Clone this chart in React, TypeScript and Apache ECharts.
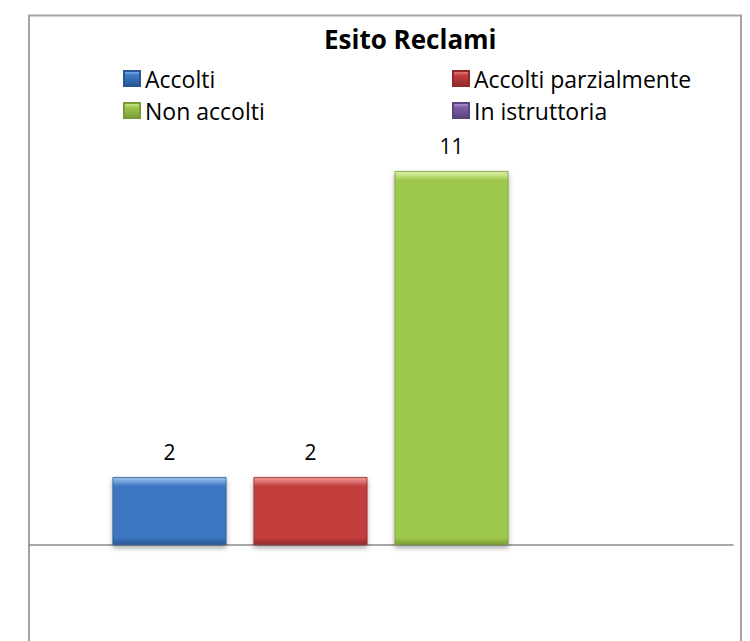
import React, { useEffect, useRef } from "react";
import * as echarts from "echarts";

const categories = ["Esito"];
const seriesNames = ["Accolti", "Accolti parzialmente", "Non accolti", "In istruttoria"];
const seriesValues: (number | null)[] = [2, 2, 11, null];
const palette = [
  ["#8db6e8", "#3c77c2", "#2b5894"],
  ["#e88a8a", "#c43d3d", "#922a2a"],
  ["#d2ea98", "#9dc84c", "#7a9c37"],
  ["#b79ed6", "#7c5ea6", "#5b437f"],
];

const Y_MAX = 12;
const GRID_TOP = 137;
const GRID_BOTTOM = 96;
const CHART_H = 641;
const PX_PER_UNIT = (CHART_H - GRID_TOP - GRID_BOTTOM) / Y_MAX;

const grad = (c: string[], v: number | null) => {
  const h = Math.max(1, (v ?? 1) * PX_PER_UNIT);
  const t1 = Math.min(0.45, 2 / h);
  const t2 = Math.min(0.48, 9 / h);
  const b1 = Math.max(0.52, 1 - 7 / h);
  return new echarts.graphic.LinearGradient(0, 0, 0, 1, [
    { offset: 0, color: c[0] },
    { offset: t1, color: c[0] },
    { offset: t2, color: c[1] },
    { offset: b1, color: c[1] },
    { offset: 1, color: c[2] },
  ]);
};

const legendIconGrad = (c: string[]) =>
  new echarts.graphic.LinearGradient(0, 0, 0, 1, [
    { offset: 0, color: c[0] },
    { offset: 0.3, color: c[1] },
    { offset: 1, color: c[2] },
  ]);

export default function App() {
  const ref = useRef<HTMLDivElement>(null);
  useEffect(() => {
    if (!ref.current) return;
    const chart = echarts.init(ref.current, null, { renderer: "svg" });
    const font = "'Open Sans', 'Noto Sans', sans-serif";
    const legendBase = {
      orient: "vertical",
      top: 67,
      padding: 0,
      itemGap: 9,
      itemWidth: 16,
      itemHeight: 15,
      icon: "rect",
      textStyle: { fontFamily: font, fontSize: 23, color: "#000" },
    };
    chart.setOption({
      animation: false,
      backgroundColor: "#ffffff",
      title: {
        text: "Esito Reclami",
        left: 324,
        top: 26,
        padding: 0,
        textStyle: { fontFamily: font, fontWeight: "bold", fontSize: 26, color: "#000" },
      },
      legend: [
        { ...legendBase, left: 123, data: [seriesNames[0], seriesNames[2]] },
        { ...legendBase, left: 452, data: [seriesNames[1], seriesNames[3]] },
      ],
      grid: { left: 29, right: 17, top: GRID_TOP, bottom: GRID_BOTTOM, containLabel: false },
      xAxis: {
        type: "category",
        data: categories,
        axisLine: { show: true, lineStyle: { color: "#8a8a8a", width: 1.5 } },
        axisTick: { show: false },
        axisLabel: { show: false },
      },
      yAxis: {
        type: "value",
        min: 0,
        max: Y_MAX,
        show: false,
        splitLine: { show: false },
      },
      graphic: [
        {
          type: "rect",
          z: -1,
          silent: true,
          shape: { x: 29, y: 15.5, width: 712, height: 700 },
          style: { fill: "none", stroke: "#a3a3a3", lineWidth: 2 },
        },
      ],
      series: seriesNames.map((name, i) => ({
        name,
        type: "bar",
        data: [
          {
            value: seriesValues[i],
            itemStyle: { color: grad(palette[i], seriesValues[i]) },
          },
        ],
        barWidth: 114,
        barGap: "23.7%",
        itemStyle: {
          color: legendIconGrad(palette[i]),
          borderColor: palette[i][2],
          borderWidth: 0.8,
          shadowColor: "rgba(0,0,0,0.35)",
          shadowBlur: 5,
          shadowOffsetY: 3,
        },
        label: {
          show: true,
          position: "top",
          distance: 15,
          fontFamily: font,
          fontSize: 21,
          color: "#000",
        },
      })),
    });
    return () => chart.dispose();
  }, []);
  return (
    <div
      ref={ref}
      style={{ position: "fixed", left: 0, top: 0, width: 750, height: 641 }}
    />
  );
}
